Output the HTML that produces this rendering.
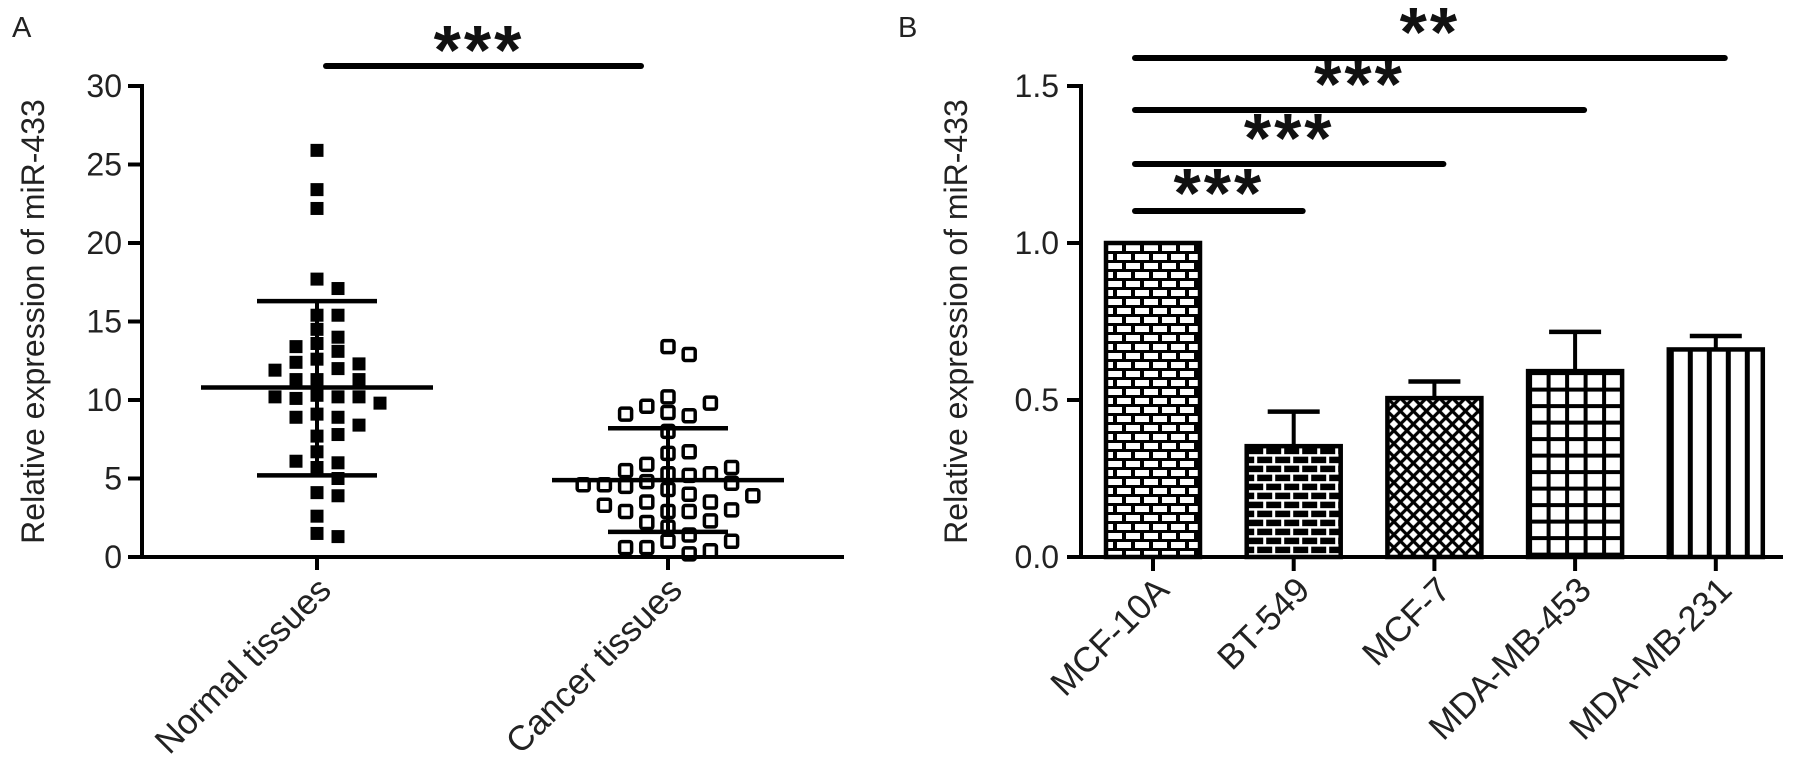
<!DOCTYPE html>
<html><head><meta charset="utf-8"><style>
html,body{margin:0;padding:0;background:#fff;}
svg{display:block;font-family:"Liberation Sans",Arial,sans-serif;}
</style></head><body>
<svg id="fig" width="1798" height="767" viewBox="0 0 1798 767" xmlns="http://www.w3.org/2000/svg">
<defs id="defs"></defs>
<text x="12" y="37" font-size="29" fill="#222">A</text>
<text x="898" y="37" font-size="29" fill="#222">B</text>
<g id="panelA"></g>
<g id="panelB"></g>
</svg>
<script>
// ---------- Panel A data ----------
const aCategories = ["Normal tissues", "Cancer tissues"];
const normalValues = [25.9,23.4,22.2,17.7,17.1,15.4,15.4,14.5,13.6,14.0,13.4,13.1,12.6,12.4,12.3,12.0,11.9,11.3,11.3,11.3,10.3,10.2,10.1,10.2,10.2,9.8,9.1,8.9,8.9,8.4,7.7,7.8,6.7,6.0,6.1,5.7,5.0,4.1,3.9,2.6,1.5,1.3];
const cancerValues = [13.4,12.9,10.2,9.2,9.0,9.6,9.8,9.1,8.0,6.6,6.7,5.9,5.3,5.2,4.8,5.3,5.5,4.5,4.7,4.6,4.3,4.0,3.5,3.5,3.9,2.9,2.9,2.9,3.0,2.2,1.9,2.3,1.4,1.0,0.6,0.2,0.4,0.6,1.0,5.7,4.6,3.3];
const aMeans = [10.8, 4.9];
const aSdUpper = [16.3, 8.2];
const aSdLower = [5.2, 1.6];
const aTicks = [0,5,10,15,20,25,30];
const aSig = "***";

// ---------- Panel B data ----------
const bCategories = ["MCF-10A","BT-549","MCF-7","MDA-MB-453","MDA-MB-231"];
const bValues = [1.0, 0.353, 0.506, 0.592, 0.661];
const bErrors = [0.0, 0.11, 0.053, 0.125, 0.043];
const bTicks = [0.0, 0.5, 1.0, 1.5];
const bTickLabels = ["0.0","0.5","1.0","1.5"];
const bSigLabels = ["***","***","***","**"];
const bSigTargets = [1, 2, 3, 4];

const NS = "http://www.w3.org/2000/svg";
function mk(tag, attrs, parent){
  const e = document.createElementNS(NS, tag);
  for (const k in attrs) e.setAttribute(k, attrs[k]);
  if (parent) parent.appendChild(e);
  return e;
}
const TXT = "#222";

// ===== Panel A =====
(function(){
  const g = document.getElementById('panelA');
  const x0 = 142, xEnd = 844, y0 = 557, yTop = 86, vmax = 30;
  const yA = v => y0 - (v / vmax) * (y0 - yTop);
  const catX = [317, 668];
  const xA = i => catX[i];

  let e = mk('line',{x1:x0,y1:yTop-2,x2:x0,y2:y0+2,stroke:'#000','stroke-width':4},g);
   
  e = mk('line',{x1:x0-14,y1:y0,x2:xEnd,y2:y0,stroke:'#000','stroke-width':4},g);
   
  aTicks.forEach(t=>{
    const tk = mk('line',{x1:x0-14,y1:yA(t),x2:x0,y2:yA(t),stroke:'#000','stroke-width':4},g);
     
    const tl = mk('text',{x:x0-20,y:yA(t)+11,'text-anchor':'end','font-size':32,fill:TXT},g);
     
    tl.textContent = t;
  });
  const yt = mk('text',{x:0,y:0,'text-anchor':'middle','font-size':32,fill:TXT,transform:'translate(44,'+((yTop+y0)/2)+') rotate(-90)'},g);
   
  yt.textContent = 'Relative expression of miR-433';

  aCategories.forEach((c,i)=>{
    const tk = mk('line',{x1:xA(i),y1:y0,x2:xA(i),y2:y0+13,stroke:'#000','stroke-width':4},g);
     
    const ax = xA(i)+16, ay = 592;
    const tl = mk('text',{x:ax,y:ay,'text-anchor':'end','font-size':35,fill:TXT,transform:'rotate(-45 '+ax+' '+ay+')'},g);
     
    tl.textContent = c;
  });

  function swarm(vals, cx, step, minD){
    const placed = [];
    vals.forEach((v,i)=>{
      const y = yA(vals[i]);
      for (let k=0;k<40;k++){
        const cand = k===0?[0]:[k,-k];
        let ok=false;
        for (const kk of cand){
          const x = cx + kk*step;
          if (placed.every(p=>Math.abs(p.x-x)>=minD || Math.abs(p.y-y)>=minD)){
            placed.push({x:x,y:y}); ok=true; break;
          }
        }
        if (ok) break;
      }
    });
    return placed;
  }
  const series = [normalValues, cancerValues];
  series.forEach((vals,si)=>{
    const pts = swarm(vals, xA(si), si===0?10.5:10.6, si===0?14:14);
    pts.forEach(p=>{
      let r;
      if (si===0){
        r = mk('rect',{x:p.x-6.5,y:p.y-6.5,width:13,height:13,fill:'#000'},g);
      } else {
        r = mk('rect',{x:p.x-6,y:p.y-6,width:12,height:12,rx:2,fill:'none',stroke:'#000','stroke-width':3.5},g);
      }
      
      
    });
    const cx = xA(si);
    let l = mk('line',{x1:cx-116,y1:yA(aMeans[si]),x2:cx+116,y2:yA(aMeans[si]),stroke:'#000','stroke-width':4.5},g);
     
    l = mk('line',{x1:cx,y1:yA(aSdLower[si]),x2:cx,y2:yA(aSdUpper[si]),stroke:'#000','stroke-width':4},g);
     
    l = mk('line',{x1:cx-60,y1:yA(aSdUpper[si]),x2:cx+60,y2:yA(aSdUpper[si]),stroke:'#000','stroke-width':4.5},g);
     
    l = mk('line',{x1:cx-60,y1:yA(aSdLower[si]),x2:cx+60,y2:yA(aSdLower[si]),stroke:'#000','stroke-width':4.5},g);
     
  });
  let s = mk('line',{x1:326,y1:66,x2:641,y2:66,stroke:'#000','stroke-width':6,'stroke-linecap':'round'},g);
   
  s = mk('text',{x:479,y:74,'text-anchor':'middle','font-size':70,'font-weight':'bold','letter-spacing':3,fill:'#111'},g);
   
  s.textContent = aSig;
})();

// ===== Panel B =====
(function(){
  const g = document.getElementById('panelB');
  const defs = document.getElementById('defs');
  const x0 = 1081, xEnd = 1783, y0 = 557, yTop = 86, vmax = 1.5;
  const yB = v => y0 - (v / vmax) * (y0 - yTop);
  const step = 140.7, first = 1153, bw = 94;
  const xB = i => first + i*step;

  function pattern(id, bx, by, w, h, build){
    const p = mk('pattern',{id:id,patternUnits:'userSpaceOnUse',x:bx,y:by,width:w,height:h},defs);
    build(p);
  }
  const pats = [
    (id,bx,by)=>pattern(id,bx,by,18,18,p=>{
      mk('rect',{x:0,y:0,width:18,height:18,fill:'#000'},p);
      mk('rect',{x:2,y:2,width:14,height:6,fill:'#fff'},p);
      mk('rect',{x:-7,y:11,width:14,height:6,fill:'#fff'},p);
      mk('rect',{x:11,y:11,width:14,height:6,fill:'#fff'},p);
    }),
    (id,bx,by)=>pattern(id,bx,by,18,18,p=>{
      mk('rect',{x:0,y:0,width:18,height:18,fill:'#fff'},p);
      mk('rect',{x:1.5,y:1.5,width:15,height:6.5,fill:'#000'},p);
      mk('rect',{x:-7.5,y:10.5,width:15,height:6.5,fill:'#000'},p);
      mk('rect',{x:10.5,y:10.5,width:15,height:6.5,fill:'#000'},p);
    }),
    (id,bx,by)=>pattern(id,bx,by,13,13,p=>{
      mk('rect',{x:0,y:0,width:13,height:13,fill:'#fff'},p);
      mk('path',{d:'M-2,-2 L15,15 M-2,11 L2,15 M11,-2 L15,2 M15,-2 L-2,15 M2,-2 L-2,2 M15,11 L11,15',stroke:'#000','stroke-width':3.2},p);
    }),
    (id,bx,by)=>pattern(id,bx,by,18.5,16.5,p=>{
      mk('rect',{x:0,y:0,width:18.5,height:16.5,fill:'#fff'},p);
      mk('rect',{x:0,y:0,width:4,height:16.5,fill:'#000'},p);
      mk('rect',{x:0,y:0,width:18.5,height:4,fill:'#000'},p);
    }),
    (id,bx,by)=>pattern(id,bx,by,19,10,p=>{
      mk('rect',{x:0,y:0,width:19,height:10,fill:'#fff'},p);
      mk('rect',{x:0,y:0,width:5,height:10,fill:'#000'},p);
    })
  ];

  bValues.forEach((v,i)=>{
    const bx = xB(i)-bw/2, by = yB(v);
    pats[i]('pat'+i, bx, by);
    const r = mk('rect',{x:bx,y:by,width:bw,height:y0-by,fill:'url(#pat'+i+')',stroke:'#000','stroke-width':4.5},g);
    
    
    if (bErrors[i]>0){
      let l = mk('line',{x1:xB(i),y1:by,x2:xB(i),y2:yB(v+bErrors[i]),stroke:'#000','stroke-width':4},g);
       
      l = mk('line',{x1:xB(i)-26,y1:yB(v+bErrors[i]),x2:xB(i)+26,y2:yB(v+bErrors[i]),stroke:'#000','stroke-width':4.5},g);
       
    }
  });

  let e = mk('line',{x1:x0,y1:yTop-2,x2:x0,y2:y0+2,stroke:'#000','stroke-width':4},g);
   
  e = mk('line',{x1:x0-14,y1:y0,x2:xEnd,y2:y0,stroke:'#000','stroke-width':4},g);
   
  bTicks.forEach((t,i)=>{
    const tk = mk('line',{x1:x0-14,y1:yB(t),x2:x0,y2:yB(t),stroke:'#000','stroke-width':4},g);
     
    const tl = mk('text',{x:x0-22,y:yB(t)+11,'text-anchor':'end','font-size':32,fill:TXT},g);
     
    tl.textContent = bTickLabels[i];
  });
  const yt = mk('text',{x:0,y:0,'text-anchor':'middle','font-size':32,fill:TXT,transform:'translate(967,'+((yTop+y0)/2)+') rotate(-90)'},g);
   
  yt.textContent = 'Relative expression of miR-433';

  bCategories.forEach((c,i)=>{
    const tk = mk('line',{x1:xB(i),y1:y0,x2:xB(i),y2:y0+14,stroke:'#000','stroke-width':4},g);
     
    const ax = xB(i)+18, ay = 592;
    const tl = mk('text',{x:ax,y:ay,'text-anchor':'end','font-size':35,fill:TXT,transform:'rotate(-45 '+ax+' '+ay+')'},g);
     
    tl.textContent = c;
  });

  const sigY = [211, 164, 110, 58];
  const starY = [217, 162, 108, 56];
  bSigTargets.forEach((t,k)=>{
    const xs = 1135, xe = xB(t) + 9;
    const l = mk('line',{x1:xs,y1:sigY[k],x2:xe,y2:sigY[k],stroke:'#000','stroke-width':6,'stroke-linecap':'round'},g);
     
    const st = mk('text',{x:(xs+xe)/2,y:starY[k],'text-anchor':'middle','font-size':70,'font-weight':'bold','letter-spacing':3,fill:'#111'},g);
     
    st.textContent = bSigLabels[k];
  });
})();
</script>
</body></html>
